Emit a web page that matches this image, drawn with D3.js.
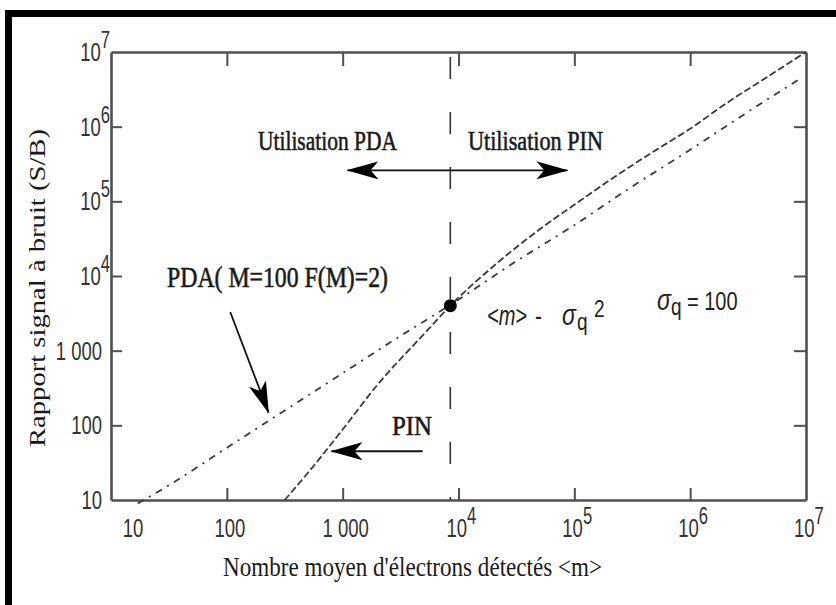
<!DOCTYPE html>
<html>
<head>
<meta charset="utf-8">
<script src="https://cdn.jsdelivr.net/npm/d3@7"></script>
<style>
body { margin: 0; background: #fff; }
svg { display: block; }
</style>
</head>
<body>
<div id="chart"></div>
<script>
var width = 836;
var height = 605;
var margin = {top: 52, right: 30, bottom: 105, left: 111};

// axis ticks (both axes are log, 10 .. 10^7)
var tickValues = [10, 100, 1000, 1e4, 1e5, 1e6, 1e7];
var xTickLabels = ['10', '100', '1 000', '10^4', '10^5', '10^6', '10^7'];
var yTickLabels = ['10', '100', '1 000', '10^4', '10^5', '10^6', '10^7'];

// PIN photodiode curve
var pinElectrons = [316, 500, 1000, 2000, 5000, 8500, 2e4, 5e4, 1e5, 2e5, 5e5, 1e6, 2e6, 5e6, 1e7];
var pinSignal = [10, 23, 88, 350, 1650, 4000, 1.35e4, 4.2e4, 9e4, 1.9e5, 4.8e5, 9.4e5, 2e6, 5e6, 1e7];

// PDA (M=100, F(M)=2) curve
var pdaElectrons = [17, 30, 100, 200, 1000, 3000, 8500, 3e4, 1e5, 3e5, 1e6, 3e6, 8.5e6];
var pdaSignal = [9, 15, 50, 100, 500, 1500, 4100, 1.5e4, 4.8e4, 1.5e5, 4.9e5, 1.5e6, 4.2e6];

// crossing point <m> = sigma_q^2
var crossElectrons = [8500];
var crossSignal = [4000];

var svg = d3.select('#chart')
	.append('svg')
	.attr('width', width)
	.attr('height', height);

var x = d3.scaleLog()
	.domain([10, 1e7])
	.range([margin.left, width - margin.right]);

var y = d3.scaleLog()
	.domain([10, 1e7])
	.range([height - margin.bottom, margin.top]);

var x0 = x.range()[0], x1 = x.range()[1];
var y0 = y.range()[0], y1 = y.range()[1];

// scanned page frame (top and left thick black edges)
svg.append('rect').attr('x', 5).attr('y', 10).attr('width', width - 5).attr('height', 7).attr('fill', '#000');
svg.append('rect').attr('x', 5).attr('y', 10).attr('width', 7).attr('height', height - 10).attr('fill', '#000');

var defs = svg.append('defs');
defs.append('marker')
	.attr('id', 'head')
	.attr('viewBox', '0 -9 32 18')
	.attr('refX', 31)
	.attr('refY', 0)
	.attr('markerWidth', 32)
	.attr('markerHeight', 18)
	.attr('markerUnits', 'userSpaceOnUse')
	.attr('orient', 'auto')
	.append('path')
	.attr('d', 'M0,-9L32,0L0,9L8,0Z')
	.attr('fill', '#000');

// axes, ticks pointing inward
function styleAxis(g) {
	g.select('.domain').attr('stroke', '#505050').attr('stroke-width', 2.6);
	g.selectAll('.tick line').attr('stroke', '#505050').attr('stroke-width', 2);
}

svg.append('g')
	.attr('transform', 'translate(0,' + y0 + ')')
	.call(d3.axisBottom(x).tickValues(tickValues.slice(1, -1)).tickSize(-12).tickSizeOuter(0).tickFormat(''))
	.call(styleAxis);

svg.append('g')
	.attr('transform', 'translate(0,' + y1 + ')')
	.call(d3.axisTop(x).tickValues(tickValues.slice(1, -1)).tickSize(-14).tickSizeOuter(0).tickFormat(''))
	.call(styleAxis);

svg.append('g')
	.attr('transform', 'translate(' + x0 + ',0)')
	.call(d3.axisLeft(y).tickValues(tickValues.slice(1, -1)).tickSize(-11).tickSizeOuter(0).tickFormat(''))
	.call(styleAxis);

svg.append('g')
	.attr('transform', 'translate(' + x1 + ',0)')
	.call(d3.axisRight(y).tickValues(tickValues.slice(1, -1)).tickSize(-12).tickSizeOuter(0).tickFormat(''))
	.call(styleAxis);

// text helper: the scan is stretched vertically, so glyphs get scale(1, sy)
function label(px, py, str, font, size, opts) {
	opts = opts || {};
	var t = svg.append('text')
		.attr('transform', 'translate(' + px + ',' + py + ') scale(1,' + (opts.sy || 1.3) + ')')
		.attr('font-family', font)
		.attr('font-size', size)
		.attr('fill', opts.fill || '#1a1a1a')
		.attr('text-anchor', opts.anchor || 'start');
	if (opts.bold) t.attr('stroke', '#1a1a1a').attr('stroke-width', 0.45);
	if (opts.length) t.attr('textLength', opts.length).attr('lengthAdjust', 'spacingAndGlyphs');
	var parts = str.split('^');
	t.append('tspan').text(parts[0]);
	if (parts[1]) t.append('tspan').attr('font-size', size * 0.9).attr('dy', -size * 0.5).text(parts[1]);
	return t;
}

var sans = "'Liberation Sans', Arial, sans-serif";
var serif = "'Liberation Serif', 'Times New Roman', serif";

xTickLabels.forEach(function(s, i) {
	var px = x(tickValues[i]);
	if (i === 0) label(px + 22, 537, s, sans, 18.5, {anchor: 'middle', sy: 1.4, fill: '#333'});
	else if (s.indexOf('^') > 0) label(px - 12, 537, s, sans, 18.5, {sy: 1.4, fill: '#333'});
	else label(px + 3, 537, s, sans, 18.5, {anchor: 'middle', sy: 1.4, fill: '#333'});
});

yTickLabels.forEach(function(s, i) {
	var py = y(tickValues[i]) + 9;
	if (s.indexOf('^') > 0) label(x0 - 1, py, s, sans, 18.5, {anchor: 'end', sy: 1.4, fill: '#333'});
	else label(x0 - 9, py, s, sans, 18.5, {anchor: 'end', sy: 1.4, fill: '#333'});
});

// axis titles
label(223, 576, "Nombre moyen d'électrons détectés <m>", serif, 21, {length: 379});
svg.append('text')
	.attr('transform', 'translate(45,288) rotate(-90)')
	.attr('font-family', serif)
	.attr('font-size', 23)
	.attr('fill', '#1a1a1a')
	.attr('text-anchor', 'middle')
	.attr('textLength', 318)
	.attr('lengthAdjust', 'spacingAndGlyphs')
	.text('Rapport signal à bruit (S/B)');

// vertical separator at <m> = sigma_q^2
svg.append('line')
	.attr('x1', x(crossElectrons[0])).attr('x2', x(crossElectrons[0]))
	.attr('y1', y1).attr('y2', y0)
	.attr('stroke', '#333')
	.attr('stroke-width', 1.6)
	.attr('stroke-dasharray', '22,33')
	.attr('stroke-dashoffset', 50);

var line = d3.line()
	.x(function(d) { return x(d[0]); })
	.y(function(d) { return y(d[1]); })
	.curve(d3.curveMonotoneX);

svg.append('path')
	.datum(d3.zip(pdaElectrons, pdaSignal))
	.attr('d', line)
	.attr('fill', 'none')
	.attr('stroke', '#3a3a3a')
	.attr('stroke-width', 1.8)
	.attr('stroke-dasharray', '7,6,2,6');

svg.append('path')
	.datum(d3.zip(pinElectrons, pinSignal))
	.attr('d', line)
	.attr('fill', 'none')
	.attr('stroke', '#3a3a3a')
	.attr('stroke-width', 1.8)
	.attr('stroke-dasharray', '7,3');

svg.selectAll('.cross')
	.data(d3.zip(crossElectrons, crossSignal))
	.enter()
	.append('circle')
	.attr('class', 'cross')
	.attr('cx', function(d) { return x(d[0]); })
	.attr('cy', function(d) { return y(d[1]); })
	.attr('r', 6.5)
	.attr('fill', '#000');

// annotation arrows
function arrow(m1, s1, m2, s2) {
	svg.append('line')
		.attr('x1', x(m1)).attr('y1', y(s1))
		.attr('x2', x(m2)).attr('y2', y(s2))
		.attr('stroke', '#111')
		.attr('stroke-width', 1.8)
		.attr('marker-end', 'url(#head)');
}

arrow(8500, 2.6e5, 1100, 2.6e5);
arrow(8500, 2.6e5, 8.7e4, 2.6e5);
arrow(107, 3300, 229, 148);
arrow(4900, 45, 800, 45);

label(258, 150, 'Utilisation PDA', serif, 21, {length: 139, bold: true});
label(468, 150, 'Utilisation PIN', serif, 21, {length: 135, bold: true});
label(167, 287, 'PDA( M=100 F(M)=2)', serif, 22, {length: 221, bold: true});
label(392, 435, 'PIN', serif, 21, {length: 40, bold: true});

// <m> - sigma_q^2
var t1 = svg.append('text')
	.attr('transform', 'translate(487,325) scale(1,1.3)')
	.attr('font-family', sans)
	.attr('font-size', 21)
	.attr('fill', '#222');
t1.append('tspan').attr('x', 0).attr('font-style', 'italic').attr('textLength', 40).attr('lengthAdjust', 'spacingAndGlyphs').text('<m>');
t1.append('tspan').attr('x', 48).text('-');
t1.append('tspan').attr('x', 75).attr('font-style', 'italic').attr('font-size', 23).text('σ');
t1.append('tspan').attr('x', 90).attr('dy', 4).attr('font-size', 19).text('q');
t1.append('tspan').attr('x', 107).attr('dy', -10).attr('font-size', 19).text('2');

// sigma_q = 100
var t2 = svg.append('text')
	.attr('transform', 'translate(657,310) scale(1,1.3)')
	.attr('font-family', sans)
	.attr('font-size', 20)
	.attr('fill', '#222');
t2.append('tspan').attr('x', 0).attr('font-style', 'italic').attr('font-size', 23).text('σ');
t2.append('tspan').attr('x', 14).attr('dy', 4).attr('font-size', 19).text('q');
t2.append('tspan').attr('x', 30).attr('dy', -4).text('= 100');
</script>
</body>
</html>
